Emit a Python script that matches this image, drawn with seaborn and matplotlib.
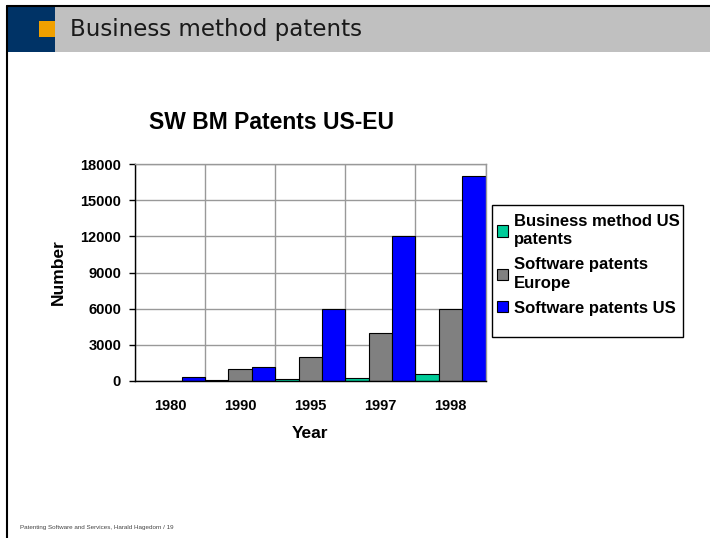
import matplotlib
matplotlib.use("Agg")
import matplotlib.pyplot as plt
import matplotlib.patches as mpatches
import seaborn as sns
import pandas as pd
import numpy as np

years = ["1980", "1990", "1995", "1997", "1998"]
series = ["Business method US\npatents", "Software patents\nEurope", "Software patents US"]
bm_us = [0, 100, 150, 250, 600]
sw_eu = [0, 1000, 2000, 4000, 6000]
sw_us = [300, 1200, 6000, 12000, 17000]
colors = ["#00CC99", "#808080", "#0000FF"]
yticks = [0, 3000, 6000, 9000, 12000, 15000, 18000]

df = pd.DataFrame({
    "Year": years * 3,
    "Series": [series[0]] * 5 + [series[1]] * 5 + [series[2]] * 5,
    "Number": bm_us + sw_eu + sw_us,
})

sns.set_style("white")
plt.rcParams["font.family"] = ["Liberation Sans", "DejaVu Sans"]
plt.rcParams["text.color"] = "black"
plt.rcParams["axes.labelcolor"] = "black"
plt.rcParams["xtick.color"] = "black"
plt.rcParams["ytick.color"] = "black"

fig = plt.figure(figsize=(7.1, 5.38), dpi=100)
W, H = 710, 538

def fx(x):
    return x / W

def fy(y):
    return 1 - y / H

# Slide decorations
fig.add_artist(mpatches.Rectangle((fx(8), fy(52)), fx(702), 46 / H, transform=fig.transFigure,
                                  facecolor="#C0C0C0", edgecolor="none"))
fig.add_artist(mpatches.Rectangle((fx(8), fy(52)), fx(47), 46 / H, transform=fig.transFigure,
                                  facecolor="#003366", edgecolor="none"))
fig.add_artist(mpatches.Rectangle((fx(39), fy(37)), fx(16), 16 / H, transform=fig.transFigure,
                                  facecolor="#F0A000", edgecolor="none"))
fig.add_artist(plt.Line2D([fx(7), fx(710)], [fy(6), fy(6)], transform=fig.transFigure, color="black", lw=1.5))
fig.add_artist(plt.Line2D([fx(7), fx(7)], [fy(6), fy(538)], transform=fig.transFigure, color="black", lw=1.5))
fig.text(fx(70), fy(29.5), "Business method patents", fontsize=16.6, color="#1a1a1a",
         va="center", ha="left", family=["DejaVu Sans"])
fig.text(fx(20), fy(527), "Patenting Software and Services, Harald Hagedorn / 19", fontsize=4.5,
         color="#444444", va="center", ha="left")

ax = fig.add_axes([135 / W, 1 - 381 / H, (485.5 - 135) / W, (381 - 164) / H])
sns.barplot(data=df, x="Year", y="Number", hue="Series", palette=colors, width=1.0,
            edgecolor="black", linewidth=0.8, ax=ax, legend=True, saturation=1)

ax.set_xlim(-0.5, len(years) - 0.5)
ax.set_ylim(0, 18000)
ax.set_yticks(yticks)
ax.set_yticklabels([str(v) for v in yticks], fontsize=10.5, fontweight="bold")
ax.set_xticks(range(len(years)))
ax.set_xticklabels(years, fontsize=10.5, fontweight="bold")
ax.set_xticks(np.arange(-0.5, len(years), 1.0), minor=True)
ax.tick_params(axis="x", which="major", length=0, pad=13)
ax.tick_params(axis="x", which="minor", length=4, width=1, color="black", direction="out")
ax.tick_params(axis="y", which="major", length=4, width=1, color="black", direction="out", left=True, pad=6)
ax.grid(True, axis="y", color="#999999", lw=1)
ax.grid(True, axis="x", which="minor", color="#999999", lw=1)
ax.set_axisbelow(True)
for s in ["top", "right"]:
    ax.spines[s].set_color("#999999")
    ax.spines[s].set_linewidth(1)
for s in ["left", "bottom"]:
    ax.spines[s].set_color("black")
    ax.spines[s].set_linewidth(1)

ax.set_xlabel("Year", fontsize=12.5, fontweight="bold", labelpad=9)
ax.set_ylabel("Number", fontsize=12.5, fontweight="bold", labelpad=10)
ax.set_title("SW BM Patents US-EU", fontsize=16.5, fontweight="bold", pad=25, x=0.39, color="black")

handles, labels = ax.get_legend_handles_labels()
ax.get_legend().remove()
fig.add_artist(mpatches.Rectangle((fx(492), fy(337)), (683 - 492) / W, (337 - 205) / H,
                                  transform=fig.transFigure, facecolor="white",
                                  edgecolor="black", lw=1))
leg = fig.legend(handles, labels, loc="upper left", bbox_to_anchor=(494 / W, 1 - 211 / H),
                 frameon=False, prop={"weight": "bold", "size": 12}, handlelength=0.65,
                 handleheight=0.65, handletextpad=0.35, labelspacing=0.6, borderpad=0.2,
                 borderaxespad=0)
for t in leg.get_texts():
    t.set_linespacing(1.26)
    t.set_color("black")

fig.savefig("out.png", dpi=100)
